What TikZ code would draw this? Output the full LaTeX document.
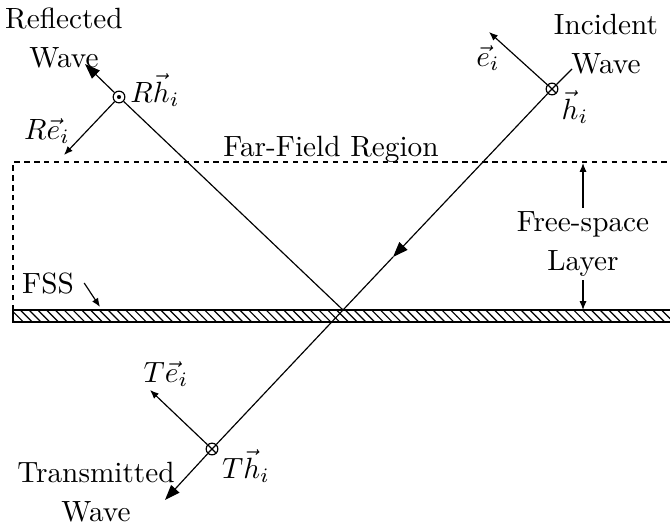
\documentclass[tikz,border=0pt]{standalone}
\usepackage{amsmath,amssymb}
\usepackage{tikz}
\usetikzlibrary{positioning, arrows.meta, patterns}

\begin{document}
\begin{tikzpicture}[x=0.3415pt, y=-0.3415pt,
			wave/.style={-{Triangle[length=5.2pt, width=3.8pt]}},
			vecarrow/.style={-{Latex[length=3pt, width=2.4pt]}},
			outpage/.style={circle, draw, fill=white, minimum size=4pt, inner sep=0pt},
			inpage/.style={circle, draw, fill=white, minimum size=4pt, inner sep=0pt,
				path picture={\draw (path picture bounding box.north west) -- (path picture bounding box.south east)
					(path picture bounding box.north east) -- (path picture bounding box.south west);}},
			txt/.style={align=center},
			sym/.style={inner sep=1pt}]
			\useasboundingbox (0,0) rectangle (670,527);
			% region and FSS sheet
			\fill[pattern=north west lines] (13,310) rectangle (675,322);
			\draw (13,310) rectangle (675,322);
			\draw[dash pattern=on 1.8pt off 1.6pt] (13,310) -- (13,162) -- (675,162);
			\node[txt] (ffr) at (331,149) {Far-Field Region};
			% points on the rays
			\coordinate (O) at (343,310);
			\coordinate (incTop) at (572,69);
			\coordinate (incMid) at (393,257);
			\coordinate (refTip) at (85,64);
			\coordinate (traTip) at (165,500);
			\node[inpage] (hI) at (552,89) {};
			\node[outpage] (hR) at (119,97) {};
			\fill (hR.center) circle (0.7pt);
			\node[inpage] (hT) at (212,449) {};
			% incident, reflected, transmitted rays
			\draw (incTop) -- (hI);
			\draw[wave] (hI) -- (incMid);
			\draw (incMid) -- (O);
			\draw (O) -- (hR);
			\draw[wave] (hR) -- (refTip);
			\draw (O) -- (hT);
			\draw[wave] (hT) -- (traTip);
			% field vectors
			\coordinate (eI) at (489,32);
			\coordinate (eR) at (64,155);
			\coordinate (eT) at (150,390);
			\draw[vecarrow] (hI) -- (eI);
			\draw[vecarrow] (hR) -- (eR);
			\draw[vecarrow] (hT) -- (eT);
			\node[sym] (eIl) at (488,58) {$\vec{e}_i$};
			\node[sym] (hIl) at (575,107) {$\vec{h}_i$};
			\node[sym] (hRl) at (155,90) {$R\vec{h}_i$};
			\node[sym] (eRl) at (47,131) {$R\vec{e}_i$};
			\node[sym] (eTl) at (166,374) {$T\vec{e}_i$};
			\node[sym] (hTl) at (246,466) {$T\vec{h}_i$};
			% wave labels
			\node[txt] (incl) at (606,44) {Incident\\[1.5pt]Wave};
			\node[txt] (refl) at (64,38) {Reflected\\[1.5pt]Wave};
			\node[txt] (tral) at (96,492) {Transmitted\\[1.5pt]Wave};
			% FSS and layer labels
			\node (fss) at (48,283) {FSS};
			\coordinate (fssTip) at (100,307);
			\draw[vecarrow] (fss.east) -- (fssTip);
			\node[txt, inner sep=1pt] (fsl) at (583,244) {Free-space\\[1.5pt]Layer};
			\coordinate (ffTop) at (583,163);
			\coordinate (fssTop) at (583,310);
			\draw[vecarrow] (fsl) -- (ffTop);
			\draw[vecarrow] (fsl) -- (fssTop);
		\end{tikzpicture}
\end{document}
